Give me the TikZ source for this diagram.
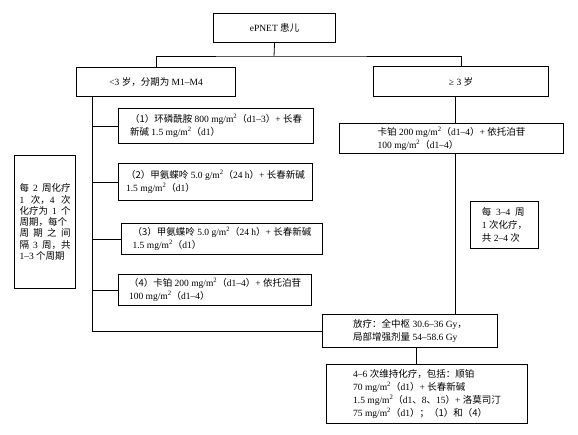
\documentclass[tikz,border=0pt]{standalone}
\usepackage{fontspec}
\setmainfont{Liberation Serif}
\newfontfamily\cjk{Noto Sans CJK SC}
\newcommand{\zh}[1]{{\cjk #1}}
\newcommand{\msq}{mg/m\textsuperscript{2}}
\newcommand{\jl}[1]{\makebox[51pt][s]{#1}}
\begin{document}
\begin{tikzpicture}[x=1pt,y=-1pt,
  box/.style={draw, line width=1.1pt, inner sep=0pt, anchor=north west, align=left,
    font=\fontsize{9.5}{13}\selectfont},
  ln/.style={line width=0.8pt}]
\useasboundingbox (0,0) rectangle (578,434);
% boxes
\node[box, minimum width=122pt, minimum height=29pt] (top) at (213,13) {ePNET \zh{患儿}};
\node[box, minimum width=159pt, minimum height=29pt] (lt) at (76,67) {<3 \zh{岁，分期为} M1–M4};
\node[box, minimum width=175pt, minimum height=30pt] (gt) at (373,66) {≥ 3 \zh{岁}};
\node[box, minimum width=195pt, minimum height=35pt] (t1) at (118,108)
  {\zh{（1）环磷酰胺} 800 \msq\zh{（}d1–3\zh{）}+ \zh{长春}\\\zh{新碱} 1.5 \msq\zh{（}d1\zh{）}};
\node[box, minimum width=194pt, minimum height=37pt] (t2) at (118,163)
  {\zh{（2）甲氨蝶呤} 5.0 g/m\textsuperscript{2}\zh{（}24 h\zh{）}+ \zh{长春新碱}\\1.5 \msq\zh{（}d1\zh{）}};
\node[box, minimum width=201pt, minimum height=31pt] (t3) at (121,223)
  {\zh{（3）甲氨蝶呤} 5.0 g/m\textsuperscript{2}\zh{（}24 h\zh{）}+ \zh{长春新碱}\\1.5 \msq\zh{（}d1\zh{）}};
\node[box, minimum width=193pt, minimum height=31pt] (t4) at (118,274)
  {\zh{（4）卡铂} 200 \msq\zh{（}d1–4\zh{）}+ \zh{依托泊苷}\\100 \msq\zh{（}d1–4\zh{）}};
\node[box, minimum width=224pt, minimum height=30pt] (rc) at (339,123)
  {\zh{卡铂} 200 \msq\zh{（}d1–4\zh{）}+ \zh{依托泊苷}\\100 \msq\zh{（}d1–4\zh{）}};
\node[box, minimum width=61pt, minimum height=133pt,
  font=\fontsize{9.5}{11.3}\selectfont] (side) at (14,155)
  {\jl{\zh{每} 2 \zh{周化疗}}\\\jl{1 \zh{次，}4 \zh{次}}\\\jl{\zh{化疗为} 1 \zh{个}}\\\jl{\zh{周期，每个}}\\\jl{\zh{周} \zh{期} \zh{之} \zh{间}}\\\jl{\zh{隔} 3 \zh{周，共}}\\1–3 \zh{个周期}};
\node[box, minimum width=68pt, minimum height=47pt] (rside) at (470,201)
  {\zh{每}\ \ 3–4\ \ \zh{周}\\1 \zh{次化疗，}\\\zh{共} 2–4 \zh{次}};
\node[box, minimum width=175pt, minimum height=33pt] (rt) at (322,314)
  {\zh{放疗：全中枢} 30.6–36 Gy\zh{，}\\\zh{局部增强剂量} 54–58.6 Gy};
\node[box, minimum width=201pt, minimum height=59pt] (mt) at (326,364)
  {4–6 \zh{次维持化疗，包括：顺铂}\\70 \msq\zh{（}d1\zh{）}+ \zh{长春新碱}\\1.5 \msq\zh{（}d1\zh{、}8\zh{、}15\zh{）}+ \zh{洛莫司汀}\\75 \msq\zh{（}d1\zh{）；（1）和（4）}};
% connectors
\coordinate (j) at (274,56);
\draw[ln] (top.south) -- (j);
\draw[ln] (lt.north) |- (j) -| (gt.north);
\coordinate (lx) at (92,96);
\draw[ln] (lx) |- (rt.west);
\foreach \n in {t1,t2,t3,t4} \draw[ln] (\n.west -| lx) -- (\n.west);
\coordinate (rx) at (455,96);
\draw[ln] (rx) -- (rx |- rc.north);
\draw[ln] (rx |- rc.south) -- (rx |- rt.north);
\coordinate (mx) at (416,347);
\draw[ln] (mx) -- (mx |- mt.north);
\end{tikzpicture}
\end{document}
